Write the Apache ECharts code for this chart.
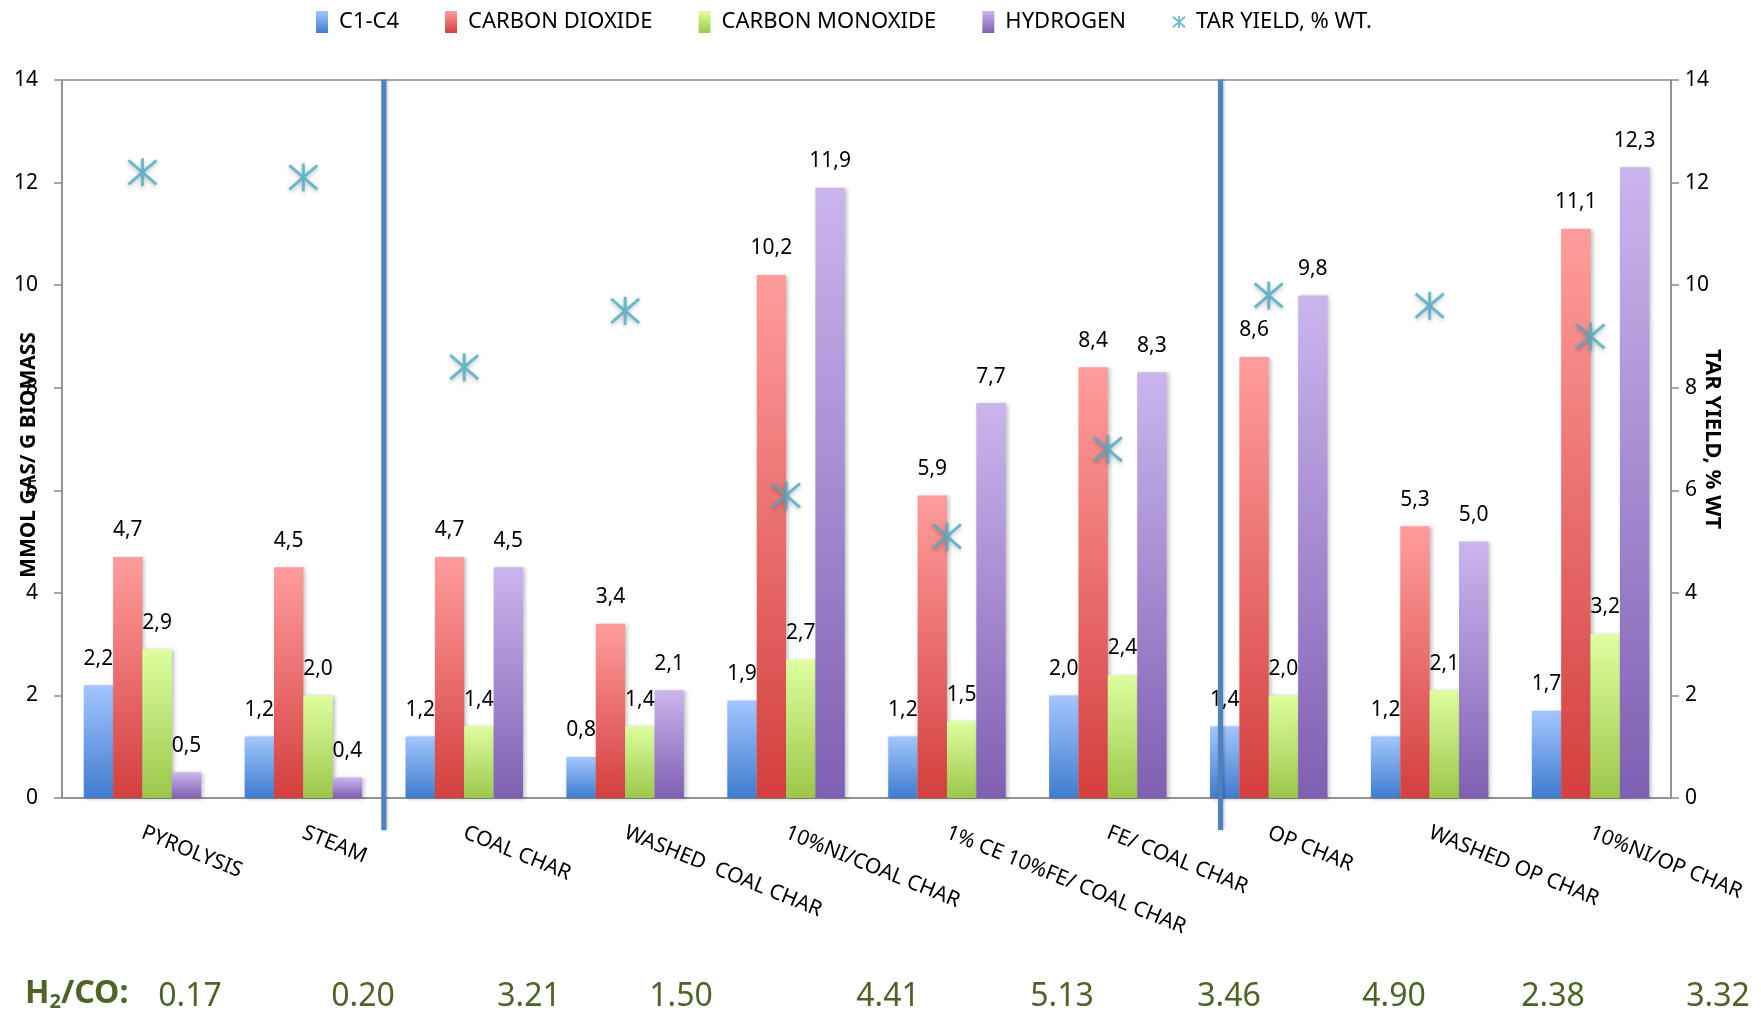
<!DOCTYPE html>
<html>
<head>
<meta charset="utf-8">
<script src="https://cdn.jsdelivr.net/npm/echarts@6/dist/echarts.min.js"></script>
<style>
  html, body { margin: 0; padding: 0; background: #fff; }
  #chart { width: 1761px; height: 1020px; }
</style>
</head>
<body>
<div id="chart"></div>
<script>
// categories and values
var categories = ['PYROLYSIS', 'STEAM', 'COAL CHAR', 'WASHED  COAL CHAR', '10%NI/COAL CHAR',
  '1% CE 10%FE/ COAL CHAR', 'FE/ COAL CHAR', 'OP CHAR', 'WASHED OP CHAR', '10%NI/OP CHAR'];
var c1c4 = [2.2, 1.2, 1.2, 0.8, 1.9, 1.2, 2.0, 1.4, 1.2, 1.7];
var carbonDioxide = [4.7, 4.5, 4.7, 3.4, 10.2, 5.9, 8.4, 8.6, 5.3, 11.1];
var carbonMonoxide = [2.9, 2.0, 1.4, 1.4, 2.7, 1.5, 2.4, 2.0, 2.1, 3.2];
var hydrogen = [0.5, 0.4, 4.5, 2.1, 11.9, 7.7, 8.3, 9.8, 5.0, 12.3];
var tarYield = [12.2, 12.1, 8.4, 9.5, 5.9, 5.1, 6.8, 9.8, 9.6, 9.0];
var h2coRatio = ['0.17', '0.20', '3.21', '1.50', '4.41', '5.13', '3.46', '4.90', '2.38', '3.32'];
var yTicks = [0, 14, 2]; // min, max, interval

// where the separators and the H2/CO texts sit (category units / pixels)
var separatorAt = [2, 7.2];
var ratioX = [190, 363, 529, 681, 888, 1062, 1229, 1394, 1553, 1718];

var font = '"Noto Sans", "Open Sans", sans-serif';
var green = '#4f6228';
var star = 'path://M14,0L14,28M0,2L28,26M0,26L28,2';

function grad(top, bottom) {
  return {
    type: 'linear', x: 0, y: 0, x2: 0, y2: 1,
    colorStops: [{ offset: 0, color: top }, { offset: 1, color: bottom }]
  };
}

function barSeries(name, data, top, bottom) {
  return {
    name: name,
    type: 'bar',
    data: data,
    barGap: '0%',
    barCategoryGap: '27%',
    itemStyle: {
      color: grad(top, bottom),
      shadowBlur: 4,
      shadowColor: 'rgba(0,0,0,0.25)',
      shadowOffsetX: 2,
      shadowOffsetY: 1
    },
    label: {
      show: true,
      position: 'top',
      distance: 16,
      color: '#000',
      fontFamily: font,
      fontSize: 21,
      formatter: function (p) { return p.value.toFixed(1).replace('.', ','); }
    }
  };
}

var chart = echarts.init(document.getElementById('chart'));

var option = {
  backgroundColor: '#fff',
  animation: false,
  textStyle: { fontFamily: font },
  legend: {
    left: 311,
    top: 6,
    itemWidth: 12,
    itemHeight: 22,
    itemGap: 46,
    textStyle: { fontSize: 22, color: '#000', fontFamily: font, padding: [0, 0, 0, 6] },
    data: [
      { name: 'C1-C4', icon: 'rect' },
      { name: 'CARBON DIOXIDE', icon: 'rect' },
      { name: 'CARBON MONOXIDE', icon: 'rect' },
      { name: 'HYDROGEN', icon: 'rect' },
      { name: 'TAR YIELD, % WT.', icon: star }
    ]
  },
  grid: {
    left: 62, right: 90, top: 80, bottom: 222,
    outerBoundsMode: 'none',
    containLabel: false,
    show: true, borderColor: '#8c8c8c', borderWidth: 1.5, backgroundColor: 'transparent'
  },
  xAxis: [{
    type: 'category',
    data: categories,
    axisLine: { lineStyle: { color: '#8c8c8c', width: 1.5 } },
    axisTick: { length: 8, lineStyle: { color: '#8c8c8c', width: 1.5 } },
    axisLabel: {
      rotate: -22,
      margin: 34,
      interval: 0,
      color: '#000',
      fontSize: 21,
      fontFamily: font
    }
  }, {
    type: 'value', min: 0, max: 10, show: false
  }],
  yAxis: [{
    type: 'value',
    min: yTicks[0], max: yTicks[1], interval: yTicks[2],
    name: 'MMOL GAS/ G BIOMASS',
    nameLocation: 'middle',
    nameGap: 22,
    nameMoveOverlap: false,
    nameTextStyle: { fontWeight: 'bold', fontSize: 21, color: '#000', fontFamily: font, padding: [0, 32, 0, 0] },
    axisLine: { show: true, lineStyle: { color: '#8c8c8c', width: 1.5 } },
    axisTick: { show: true, length: 8, lineStyle: { color: '#8c8c8c', width: 1.5 } },
    axisLabel: { margin: 24, fontSize: 21, color: '#000', fontFamily: font },
    splitLine: { show: false }
  }, {
    type: 'value',
    position: 'right',
    min: yTicks[0], max: yTicks[1], interval: yTicks[2],
    name: 'TAR YIELD, % WT',
    nameLocation: 'middle',
    nameRotate: -90,
    nameGap: 30,
    nameMoveOverlap: false,
    nameTextStyle: { fontWeight: 'bold', fontSize: 22, color: '#000', fontFamily: font },
    axisLine: { show: true, lineStyle: { color: '#8c8c8c', width: 1.5 } },
    axisTick: { show: true, length: 8, lineStyle: { color: '#8c8c8c', width: 1.5 } },
    axisLabel: { margin: 14, fontSize: 21, color: '#000', fontFamily: font },
    splitLine: { show: false }
  }],
  series: [
    barSeries('C1-C4', c1c4, '#a3c6ff', '#3f7cce'),
    barSeries('CARBON DIOXIDE', carbonDioxide, '#ff9d9c', '#d33f3e'),
    barSeries('CARBON MONOXIDE', carbonMonoxide, '#defe9f', '#9cc74a'),
    barSeries('HYDROGEN', hydrogen, '#cbb5ee', '#7f5fb2'),
    {
      name: 'TAR YIELD, % WT.',
      type: 'scatter',
      yAxisIndex: 1,
      data: tarYield,
      symbol: star,
      symbolSize: [28, 28],
      itemStyle: {
        color: 'rgba(0,0,0,0)',
        borderColor: '#4bacc6',
        borderWidth: 3,
        shadowBlur: 4,
        shadowColor: 'rgba(0,0,0,0.3)',
        shadowOffsetY: 2
      },
      z: 5
    }
  ]
};

chart.setOption(option);

// vertical separators and the H2/CO row
var yTop = chart.convertToPixel({ yAxisIndex: 0 }, yTicks[1]);
var yBase = chart.convertToPixel({ yAxisIndex: 0 }, 0);
var elements = [];
separatorAt.forEach(function (v) {
  var x = chart.convertToPixel({ xAxisIndex: 1 }, v);
  elements.push({
    type: 'line',
    z: 10,
    shape: { x1: x, y1: yTop, x2: x, y2: yBase + 32 },
    style: { stroke: '#4f81bd', lineWidth: 5, shadowBlur: 3, shadowColor: 'rgba(0,0,0,0.3)', shadowOffsetX: 1 }
  });
});
elements.push({
  type: 'text',
  left: 25,
  top: 978,
  style: {
    text: '{b|H}{s|2}{b|/CO:}',
    rich: {
      b: { fontSize: 32, fontWeight: 'bold', fill: green, fontFamily: font },
      s: { fontSize: 20, fontWeight: 'bold', fill: green, fontFamily: font, padding: [16, 0, 0, 0] }
    }
  }
});
h2coRatio.forEach(function (t, i) {
  elements.push({
    type: 'text',
    x: ratioX[i],
    y: 997,
    style: {
      text: t,
      fill: green,
      fontSize: 32,
      fontFamily: font,
      textAlign: 'center',
      textVerticalAlign: 'middle'
    }
  });
});
chart.setOption({ graphic: elements });
</script>
</body>
</html>
